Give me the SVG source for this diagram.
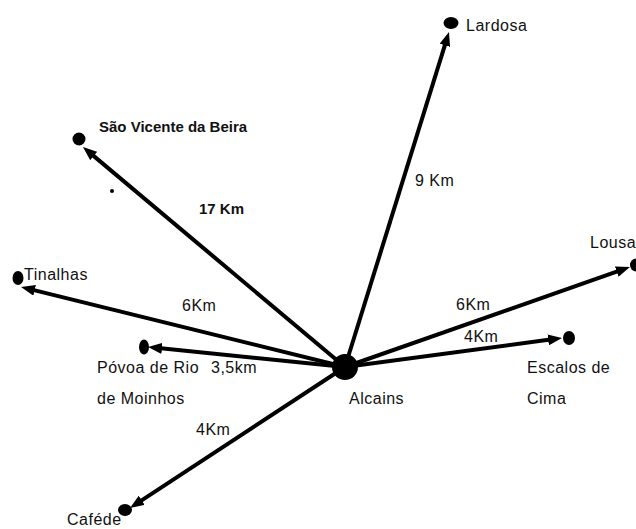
<svg xmlns="http://www.w3.org/2000/svg" width="636" height="529" viewBox="0 0 636 529">
<defs>
<style>
.t{font-family:"Liberation Sans",Arial,sans-serif;font-size:16px;letter-spacing:0.5px;fill:#111}
.b{font-family:"Liberation Sans",Arial,sans-serif;font-size:15px;font-weight:bold;fill:#111}
.c{stroke:#000;stroke-width:4;fill:none;marker-end:url(#ah)}
.d{fill:#000}
</style>
<marker id="ah" markerUnits="userSpaceOnUse" markerWidth="15" markerHeight="11" refX="6" refY="5.5" orient="auto">
<path d="M0,0 L14,5.5 L0,11 z" fill="#000"/>
</marker>
</defs>
<rect width="636" height="529" fill="#fff"/>
<g id="connectors">
<line class="c" x1="345" y1="367" x2="89.1" y2="152.1"/>
<line class="c" x1="345" y1="367" x2="446.6" y2="39.6"/>
<line class="c" x1="345" y1="367" x2="28.8" y2="288.9"/>
<line class="c" x1="345" y1="367" x2="156" y2="347.8"/>
<line class="c" x1="345" y1="367" x2="622.4" y2="269.6"/>
<line class="c" x1="345" y1="367" x2="554.1" y2="339.1"/>
<line class="c" x1="345" y1="367" x2="136.7" y2="503.6"/>
</g>
<g id="alcains"><circle class="d" cx="345" cy="367" r="13"/><text class="t" x="349" y="404">Alcains</text></g>
<g id="lardosa"><ellipse class="d" cx="451" cy="23" rx="7.5" ry="6"/><text class="t" x="466" y="31">Lardosa</text></g>
<g id="sao-vicente"><circle class="d" cx="79" cy="139" r="6.5"/><text class="b" x="99" y="132">São Vicente da Beira</text></g>
<g id="small-dot"><circle class="d" cx="112" cy="191" r="2"/></g>
<g id="tinalhas"><ellipse class="d" cx="18" cy="278" rx="5.5" ry="7"/><text class="t" x="24" y="280">Tinalhas</text></g>
<g id="povoa"><ellipse class="d" cx="144" cy="347" rx="5" ry="7.5"/><text class="t" x="97" y="373">Póvoa de Rio</text><text class="t" x="97" y="404">de Moinhos</text></g>
<g id="lousa"><ellipse class="d" cx="636" cy="265" rx="6" ry="6.5"/><text class="t" x="590" y="248">Lousa</text></g>
<g id="escalos"><ellipse class="d" cx="569" cy="338" rx="6" ry="7"/><text class="t" x="527" y="373">Escalos de</text><text class="t" x="527" y="404">Cima</text></g>
<g id="cafede"><ellipse class="d" cx="125" cy="510" rx="7" ry="6"/><text class="t" x="67" y="525">Caféde</text></g>
<g id="labels">
<text class="b" x="199" y="214">17 Km</text>
<text class="t" x="415" y="186">9 Km</text>
<text class="t" x="182" y="311">6Km</text>
<text class="t" x="211" y="373">3,5km</text>
<text class="t" x="456" y="310">6Km</text>
<text class="t" x="464" y="342">4Km</text>
<text class="t" x="196" y="435">4Km</text>
</g>
</svg>
